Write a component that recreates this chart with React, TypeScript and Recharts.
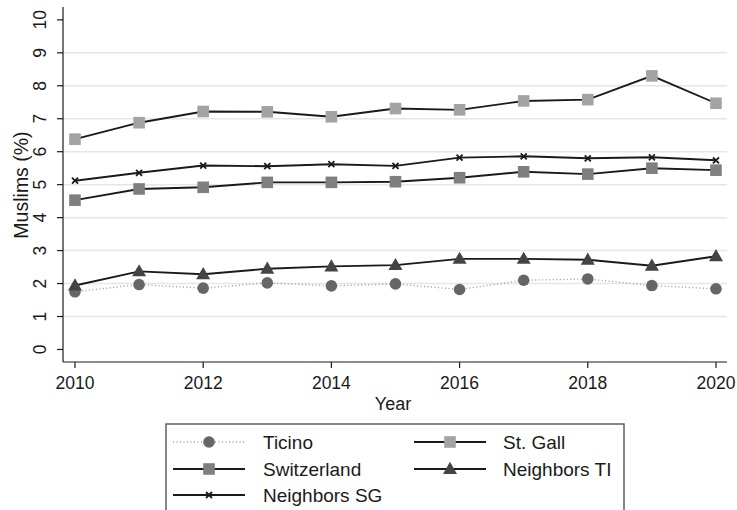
import React from 'react'
import { LineChart, Line, XAxis, YAxis, ReferenceLine } from 'recharts'

const years = [2010, 2011, 2012, 2013, 2014, 2015, 2016, 2017, 2018, 2019, 2020]
const ticino = [1.75, 1.97, 1.86, 2.02, 1.93, 1.99, 1.82, 2.1, 2.14, 1.94, 1.84]
const stGall = [6.38, 6.88, 7.22, 7.21, 7.06, 7.31, 7.27, 7.54, 7.58, 8.3, 7.47]
const switzerland = [4.53, 4.87, 4.92, 5.07, 5.07, 5.09, 5.21, 5.39, 5.32, 5.5, 5.44]
const neighborsTI = [1.94, 2.37, 2.28, 2.45, 2.52, 2.56, 2.75, 2.75, 2.72, 2.54, 2.83]
const neighborsSG = [5.12, 5.36, 5.58, 5.56, 5.62, 5.57, 5.82, 5.86, 5.8, 5.83, 5.74]

const xTicks = [2010, 2012, 2014, 2016, 2018, 2020]
const yTicks = [0, 1, 2, 3, 4, 5, 6, 7, 8, 9, 10]
const gridValues = [1, 2, 3, 4, 5, 6, 7, 8, 9]

const data = years.map((year, i) => ({
  year,
  ticino: ticino[i],
  stGall: stGall[i],
  switzerland: switzerland[i],
  neighborsTI: neighborsTI[i],
  neighborsSG: neighborsSG[i],
}))

const FONT = '"Liberation Sans", Arial, sans-serif'
const INK = '#1a1a1a'

const C_TICINO = '#666666'
const C_STGALL = '#a3a3a3'
const C_SWISS = '#7f7f7f'
const C_TI = '#444444'

// marker shapes
function Square({ cx, cy, fill }: any) {
  return <rect x={cx - 5.8} y={cy - 5.8} width={11.6} height={11.6} fill={fill} />
}
function Circle({ cx, cy, fill }: any) {
  return <circle cx={cx} cy={cy} r={5.8} fill={fill} />
}
function Triangle({ cx, cy, fill }: any) {
  return <polygon points={`${cx},${cy - 7.2} ${cx - 7},${cy + 5} ${cx + 7},${cy + 5}`} fill={fill} />
}
function Cross({ cx, cy }: any) {
  return (
    <g stroke={INK} strokeWidth={1.8}>
      <line x1={cx - 3} y1={cy - 3} x2={cx + 3} y2={cy + 3} />
      <line x1={cx - 3} y1={cy + 3} x2={cx + 3} y2={cy - 3} />
    </g>
  )
}

const dotSquare = (fill: string) => (p: any) => <Square key={p.index} cx={p.cx} cy={p.cy} fill={fill} />
const dotCircle = (p: any) => <Circle key={p.index} cx={p.cx} cy={p.cy} fill={C_TICINO} />
const dotTriangle = (p: any) => <Triangle key={p.index} cx={p.cx} cy={p.cy} fill={C_TI} />
const dotCross = (p: any) => <Cross key={p.index} cx={p.cx} cy={p.cy} />

function YTick({ y, payload }: any) {
  return (
    <text
      x={40}
      y={y}
      transform={`rotate(-90 40 ${y})`}
      textAnchor="middle"
      dominantBaseline="central"
      fontSize={17.5}
      fontFamily={FONT}
      fill={INK}
    >
      {payload.value}
    </text>
  )
}

function XTick({ x, payload }: any) {
  return (
    <text x={x} y={389} textAnchor="middle" fontSize={17.5} fontFamily={FONT} fill={INK}>
      {payload.value}
    </text>
  )
}

const legendRows = [
  { label: 'Ticino', col: 0, row: 0, kind: 'circle' },
  { label: 'St. Gall', col: 1, row: 0, kind: 'stgall' },
  { label: 'Switzerland', col: 0, row: 1, kind: 'swiss' },
  { label: 'Neighbors TI', col: 1, row: 1, kind: 'triangle' },
  { label: 'Neighbors SG', col: 0, row: 2, kind: 'cross' },
]

function LegendBox() {
  const cols = [
    { x1: 173, x2: 245, mx: 209, tx: 263 },
    { x1: 414, x2: 486, mx: 450, tx: 503 },
  ]
  const rowsY = [442, 469, 495]
  return (
    <svg width={737} height={510} style={{ position: 'absolute', left: 0, top: 0 }}>
      <rect x={166} y={424} width={458} height={100} fill="white" stroke="#555" strokeWidth={1.4} />
      {legendRows.map((r) => {
        const c = cols[r.col]
        const y = rowsY[r.row]
        const dotted = r.kind === 'circle'
        return (
          <g key={r.label}>
            <line
              x1={c.x1}
              x2={c.x2}
              y1={y}
              y2={y}
              stroke={dotted ? '#999' : INK}
              strokeWidth={dotted ? 1.3 : 1.8}
              strokeDasharray={dotted ? '1 2.5' : undefined}
            />
            {r.kind === 'circle' && <Circle cx={c.mx} cy={y} fill={C_TICINO} />}
            {r.kind === 'stgall' && <Square cx={c.mx} cy={y} fill={C_STGALL} />}
            {r.kind === 'swiss' && <Square cx={c.mx} cy={y} fill={C_SWISS} />}
            {r.kind === 'triangle' && <Triangle cx={c.mx} cy={y} fill={C_TI} />}
            {r.kind === 'cross' && <Cross cx={c.mx} cy={y} />}
            <text x={c.tx} y={y + 6.5} fontSize={19} fontFamily={FONT} fill={INK}>
              {r.label}
            </text>
          </g>
        )
      })}
    </svg>
  )
}

export default function App() {
  return (
    <div
      style={{
        position: 'absolute',
        left: 0,
        top: 0,
        width: 737,
        height: 510,
        overflow: 'hidden',
        background: 'white',
        fontFamily: FONT,
      }}
    >
      <LineChart width={737} height={510} data={data} margin={{ top: 7, right: 10, left: 0, bottom: 108 }}>
        {gridValues.map((v) => (
          <ReferenceLine key={v} y={v} stroke="#e6e6e6" strokeWidth={1.5} />
        ))}
        <XAxis
          dataKey="year"
          type="number"
          domain={[2009.813, 2020.172]}
          ticks={xTicks}
          height={40}
          axisLine={{ stroke: INK, strokeWidth: 1.2 }}
          tickLine={{ stroke: INK, strokeWidth: 1.2 }}
          tickSize={6}
          tick={<XTick />}
          allowDataOverflow
          label={{
            content: () => (
              <text x={393} y={410} textAnchor="middle" fontSize={18} fontFamily={FONT} fill={INK}>
                Year
              </text>
            ),
          }}
        />
        <YAxis
          type="number"
          domain={[-0.38, 10.39]}
          ticks={yTicks}
          width={63}
          axisLine={{ stroke: INK, strokeWidth: 1.2 }}
          tickLine={{ stroke: INK, strokeWidth: 1.2 }}
          tickSize={6}
          tick={<YTick />}
          allowDataOverflow
          label={{
            content: () => (
              <text
                x={21}
                y={185}
                transform="rotate(-90 21 185)"
                textAnchor="middle"
                dominantBaseline="central"
                fontSize={19.5}
                fontFamily={FONT}
                fill={INK}
              >
                Muslims (%)
              </text>
            ),
          }}
        />
        <Line
          dataKey="ticino"
          type="linear"
          stroke="#9a9a9a"
          strokeWidth={1.4}
          strokeDasharray="1 2.5"
          dot={dotCircle}
          isAnimationActive={false}
        />
        <Line dataKey="stGall" type="linear" stroke={INK} strokeWidth={1.9} dot={dotSquare(C_STGALL)} isAnimationActive={false} />
        <Line dataKey="switzerland" type="linear" stroke={INK} strokeWidth={1.9} dot={dotSquare(C_SWISS)} isAnimationActive={false} />
        <Line dataKey="neighborsTI" type="linear" stroke={INK} strokeWidth={1.9} dot={dotTriangle} isAnimationActive={false} />
        <Line dataKey="neighborsSG" type="linear" stroke={INK} strokeWidth={1.9} dot={dotCross} isAnimationActive={false} />
      </LineChart>
      <LegendBox />
    </div>
  )
}
